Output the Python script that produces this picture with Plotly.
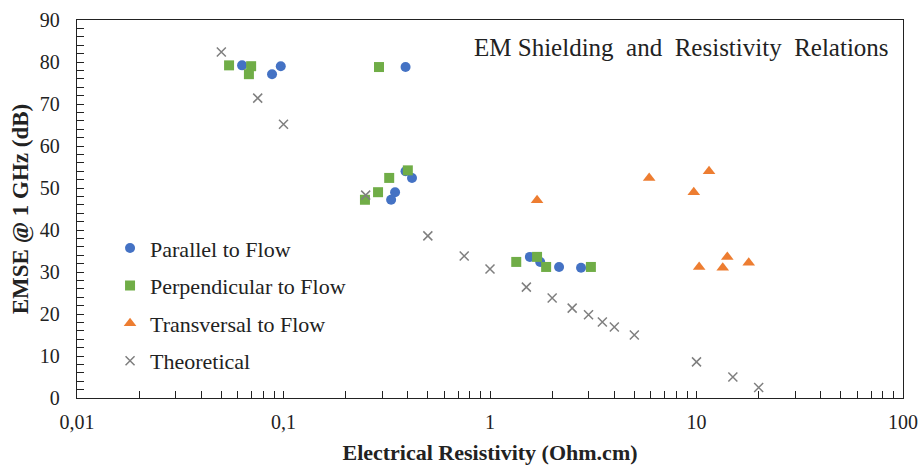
import plotly.graph_objects as go

# Data
par_x = [0.063, 0.088, 0.097, 0.39, 0.332, 0.347, 0.419, 0.39, 1.56, 1.75, 2.16, 2.76]
par_y = [79.2, 77.1, 79.0, 78.8, 47.2, 49.0, 52.4, 54.0, 33.6, 32.4, 31.2, 31.0]

perp_x = [0.0545, 0.0697, 0.068, 0.29, 0.248, 0.287, 0.325, 0.40, 1.34, 1.69, 1.87, 3.08]
perp_y = [79.2, 79.0, 77.1, 78.8, 47.2, 49.0, 52.4, 54.2, 32.4, 33.6, 31.2, 31.2]

trans_x = [1.69, 5.9, 11.5, 9.7, 10.3, 13.4, 14.1, 17.9]
trans_y = [47.1, 52.4, 54.0, 49.0, 31.2, 31.0, 33.6, 32.2]

theo_x = [0.05, 0.075, 0.1, 0.25, 0.5, 0.75, 1.0, 1.5, 2.0, 2.5, 3.0, 3.5, 4.0, 5.0, 10.0, 15.0, 20.0]
theo_y = [82.4, 71.4, 65.2, 48.3, 38.6, 33.8, 30.7, 26.4, 23.8, 21.4, 19.8, 18.1, 16.9, 15.0, 8.6, 5.0, 2.5]

x_tickvals = [0.01, 0.1, 1, 10, 100]
x_ticktext = ["0,01", "0,1", "1", "10", "100"]

FONT = "Liberation Serif"
INK = "#222222"

fig = go.Figure()
fig.add_trace(go.Scatter(x=par_x, y=par_y, mode="markers", name="Parallel to Flow", legendgroup="a",
                         marker=dict(symbol="circle", size=10, color="#4472C4")))
fig.add_trace(go.Scatter(x=perp_x, y=perp_y, mode="markers", name="Perpendicular to Flow", legendgroup="b",
                         marker=dict(symbol="square", size=10, color="#70AD47")))
fig.add_trace(go.Scatter(x=trans_x, y=trans_y, mode="markers", name="Transversal to Flow", legendgroup="c",
                         marker=dict(symbol="triangle-up", size=11, color="#ED7D31")))
fig.add_trace(go.Scatter(x=theo_x, y=theo_y, mode="markers", name="Theoretical", legendgroup="d",
                         marker=dict(symbol="x-thin", size=9, color="#7F7F7F",
                                     line=dict(color="#7F7F7F", width=1.5))))

minor_vals = []
for d in [0.01, 0.1, 1, 10]:
    for k in range(2, 10):
        minor_vals.append(round(d * k, 6))

fig.update_layout(
    width=920, height=466,
    margin=dict(l=77, r=17, t=20, b=68),
    paper_bgcolor="white", plot_bgcolor="white",
    font=dict(family=FONT, size=19, color=INK),
    showlegend=True,
    legend=dict(x=0.04, y=0.452, xanchor="left", yanchor="top",
                font=dict(family=FONT, size=22, color=INK),
                bgcolor="rgba(0,0,0,0)", tracegroupgap=6, itemwidth=30),
    xaxis=dict(type="log", range=[-2, 2], tickvals=x_tickvals, ticktext=x_ticktext,
               ticks="inside", ticklen=7, tickcolor=INK, automargin=False,
               showline=True, linecolor=INK, linewidth=1.3, mirror=True,
               showgrid=False, zeroline=False, ticklabelstandoff=6,
               tickfont=dict(family=FONT, size=20, color=INK),
               minor=dict(tickvals=minor_vals, ticks="inside", ticklen=7, tickcolor=INK, showgrid=False),
               title=dict(text="<b>Electrical Resistivity (Ohm.cm)</b>",
                          font=dict(family=FONT, size=22, color=INK), standoff=12)),
    yaxis=dict(range=[0, 90], dtick=10, ticks="inside", ticklen=7, tickcolor=INK, automargin=False,
               showline=True, linecolor=INK, linewidth=1.3, mirror=True,
               showgrid=False, zeroline=False, ticklabelstandoff=12,
               tickfont=dict(family=FONT, size=20, color=INK),
               minor=dict(dtick=2, ticks="inside", ticklen=7, tickcolor=INK, showgrid=False),
               title=dict(text="<b>EMSE @ 1 GHz (dB)</b>",
                          font=dict(family=FONT, size=23, color=INK), standoff=4)),
    annotations=[dict(text="EM Shielding  and  Resistivity  Relations", x=0.986, y=0.926,
                      xref="paper", yref="paper", xanchor="right", yanchor="middle",
                      showarrow=False, font=dict(family=FONT, size=25, color=INK))],
)

fig.write_html("out.html")
